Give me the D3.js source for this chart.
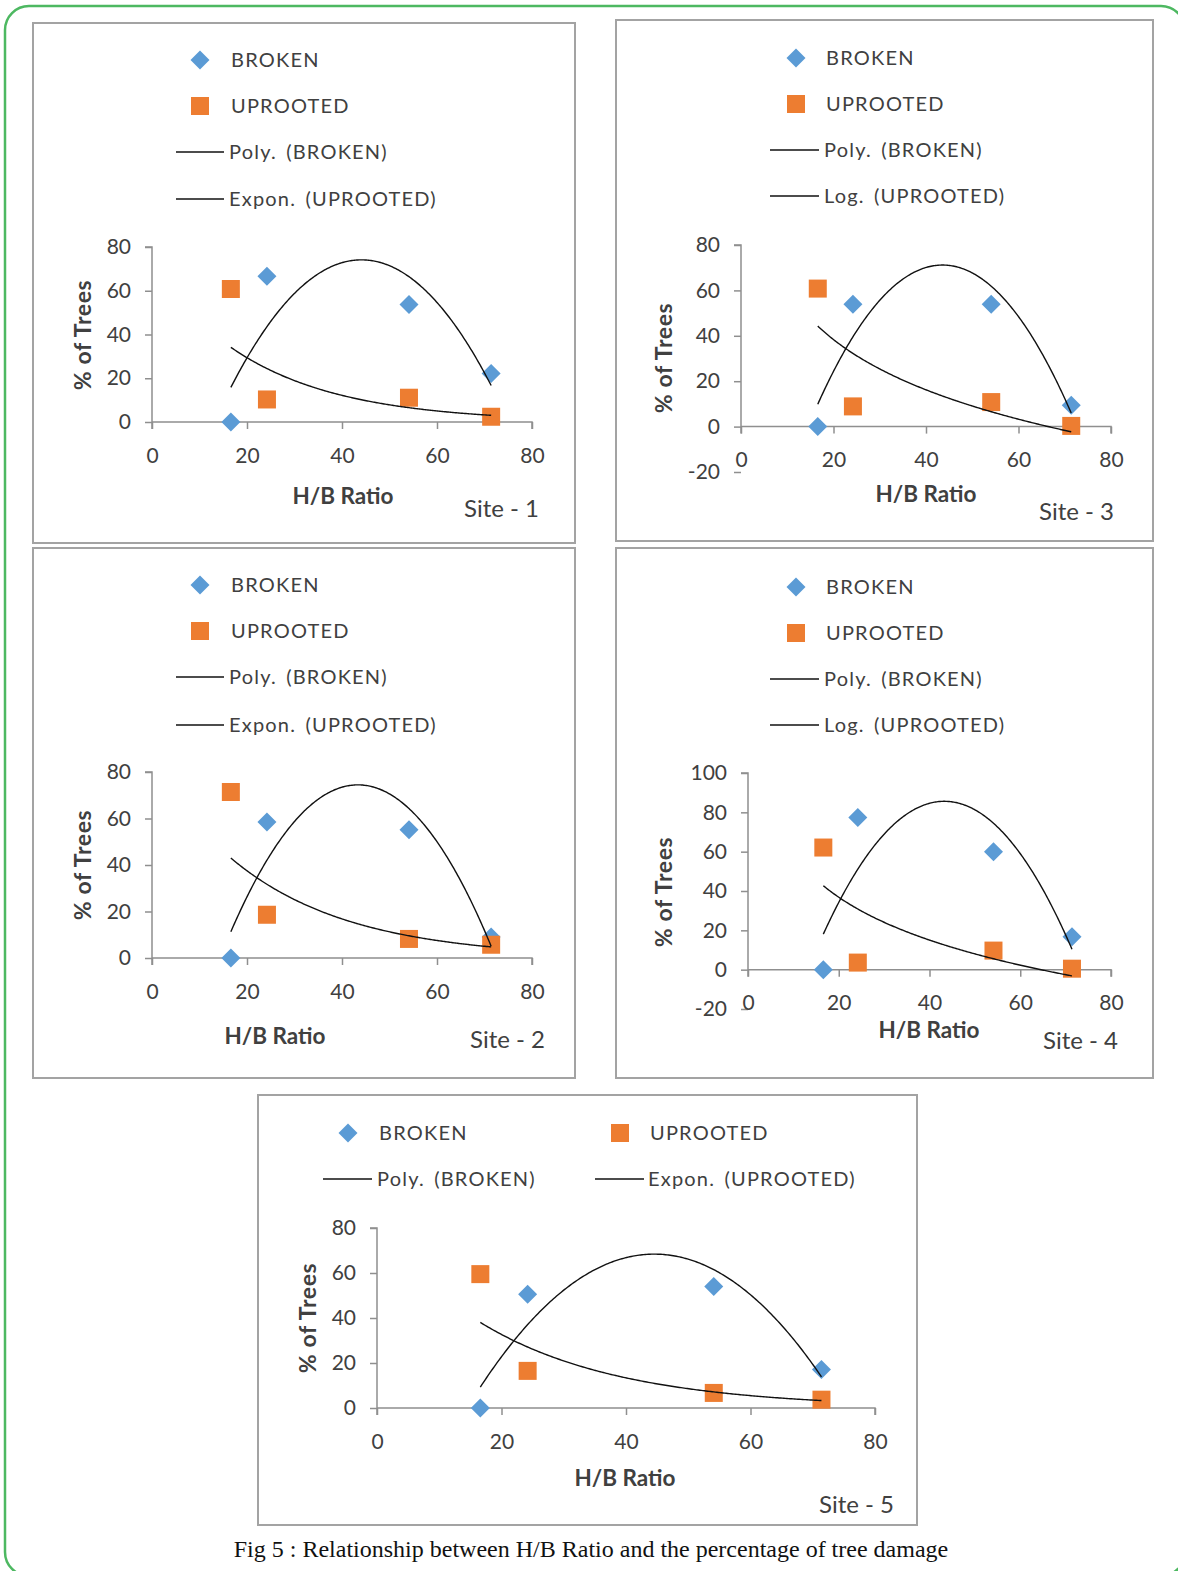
<!DOCTYPE html>
<html>
<head>
<meta charset="utf-8">
<script src="https://cdn.jsdelivr.net/npm/d3@7"></script>
<style>
  html, body { margin: 0; padding: 0; background: #fff; }
  svg { display: block; }
  .tick-label { font-family: Lato, "Open Sans", sans-serif; font-size: 21px; fill: #404040; }
  .legend-label { font-family: Lato, "Open Sans", sans-serif; font-size: 20px; fill: #404040; letter-spacing: 1.2px; word-spacing: 3px; }
  .axis-title { font-family: Lato, "Open Sans", sans-serif; font-size: 22.5px; font-weight: bold; fill: #404040; }
  .y-title { font-size: 23px; letter-spacing: 0.6px; }
  .site-label { font-family: Lato, "Open Sans", sans-serif; font-size: 24px; fill: #404040; }
  .caption { font-family: "Liberation Serif", "Times New Roman", serif; font-size: 24px; fill: #111; }
</style>
</head>
<body>
<svg id="fig" width="1178" height="1571"></svg>
<script>
// H/B ratio classes (shared by every site)
const hbRatio = [16.6, 24.2, 54.1, 71.4];

// % of trees broken, per site
const brokenSite1 = [0, 66.6, 53.7, 22.2];
const brokenSite2 = [0, 58.5, 55.2, 9.0];
const brokenSite3 = [0, 53.9, 53.9, 9.4];
const brokenSite4 = [0, 77.4, 59.9, 16.7];
const brokenSite5 = [0, 50.6, 54.0, 17.1];

// % of trees uprooted, per site
const uprootedSite1 = [60.8, 10.3, 11.1, 2.4];
const uprootedSite2 = [71.4, 18.6, 8.2, 5.7];
const uprootedSite3 = [60.8, 8.9, 10.8, 0.3];
const uprootedSite4 = [62.1, 3.6, 9.7, 0.5];
const uprootedSite5 = [59.5, 16.5, 6.7, 3.7];

const siteNames = ["Site - 1", "Site - 2", "Site - 3", "Site - 4", "Site - 5"];
const uprootedTrendType = ["Expon.", "Expon.", "Log.", "Log.", "Expon."];
const xTicks = [0, 20, 40, 60, 80];
const yTicksA = [0, 20, 40, 60, 80];
const yTicksB = [-20, 0, 20, 40, 60, 80];
const yTicksC = [-20, 0, 20, 40, 60, 80, 100];

const BLUE = "#5B9BD5", ORANGE = "#ED7D31", AXIS = "#8f8f8f";
const plainNumber = d => String(d);

// ---- least-squares trend lines (as a spreadsheet would add them) ----
function polyFit2(xs, ys) {
  const n = xs.length;
  let s = [0, 0, 0, 0, 0], t = [0, 0, 0];
  for (let i = 0; i < n; i++) {
    let p = 1;
    for (let k = 0; k <= 4; k++) { s[k] += p; p *= xs[i]; }
    t[0] += ys[i]; t[1] += ys[i] * xs[i]; t[2] += ys[i] * xs[i] * xs[i];
  }
  // solve 3x3 normal equations
  const A = [[s[0], s[1], s[2], t[0]], [s[1], s[2], s[3], t[1]], [s[2], s[3], s[4], t[2]]];
  for (let c = 0; c < 3; c++) {
    for (let r = c + 1; r < 3; r++) {
      const f = A[r][c] / A[c][c];
      for (let k = c; k < 4; k++) A[r][k] -= f * A[c][k];
    }
  }
  const co = [0, 0, 0];
  for (let r = 2; r >= 0; r--) {
    let v = A[r][3];
    for (let k = r + 1; k < 3; k++) v -= A[r][k] * co[k];
    co[r] = v / A[r][r];
  }
  return x => co[0] + co[1] * x + co[2] * x * x;
}
function linFit(xs, ys) {
  const mx = d3.mean(xs), my = d3.mean(ys);
  const b = d3.sum(xs, (x, i) => (x - mx) * (ys[i] - my)) / d3.sum(xs, x => (x - mx) * (x - mx));
  return [my - b * mx, b];
}
function expFit(xs, ys) {
  const [a, b] = linFit(xs, ys.map(Math.log));
  return x => Math.exp(a + b * x);
}
function logFit(xs, ys) {
  const [a, b] = linFit(xs.map(Math.log), ys);
  return x => a + b * Math.log(x);
}

// ---- panel layout ----
const panels = [
  { box: [33, 23, 575, 543], xr: [152, 532], yd: [0, 80], yr: [422, 247], yt: yTicksA,
    broken: brokenSite1, uprooted: uprootedSite1, site: 0,
    legend: { mx: 200, tx: 229, lx: [176, 224], ys: [60, 106, 152, 199] },
    yTitle: [83, 335], xTitle: [343, 496], siteLbl: [539, 509] },
  { box: [33, 548, 575, 1078], xr: [152, 532], yd: [0, 80], yr: [958, 772], yt: yTicksA,
    broken: brokenSite2, uprooted: uprootedSite2, site: 1,
    legend: { mx: 200, tx: 229, lx: [176, 224], ys: [585, 631, 677, 725] },
    yTitle: [83, 865], xTitle: [275, 1036], siteLbl: [545, 1040] },
  { box: [616, 20, 1153, 541], xr: [741, 1111], yd: [-20, 80], yr: [472, 245], yt: yTicksB,
    broken: brokenSite3, uprooted: uprootedSite3, site: 2,
    legend: { mx: 796, tx: 824, lx: [770, 819], ys: [58, 104, 150, 196] },
    yTitle: [664, 358], xTitle: [926, 494], siteLbl: [1114, 512] },
  { box: [616, 548, 1153, 1078], xr: [748, 1111], yd: [-20, 100], yr: [1009, 773], yt: yTicksC,
    broken: brokenSite4, uprooted: uprootedSite4, site: 3,
    legend: { mx: 796, tx: 824, lx: [770, 819], ys: [587, 633, 679, 725] },
    yTitle: [664, 892], xTitle: [929, 1030], siteLbl: [1118, 1041] },
  { box: [258, 1095, 917, 1525], xr: [377, 875], yd: [0, 80], yr: [1408, 1228], yt: yTicksA,
    broken: brokenSite5, uprooted: uprootedSite5, site: 4,
    legend: { twoCol: true, mx: [348, 620], tx: [377, 648], lx: [[323, 372], [595, 644]], ys: [1133, 1179] },
    yTitle: [308, 1318], xTitle: [625, 1478], siteLbl: [894, 1505] }
];

const svg = d3.select("#fig");

// outer rounded frame
svg.append("rect")
  .attr("x", 5).attr("y", 6).attr("width", 1180).attr("height", 1570)
  .attr("rx", 24).attr("ry", 24)
  .attr("fill", "none").attr("stroke", "#4DB861").attr("stroke-width", 2.5);

const diamondPath = (cx, cy, r) => `M${cx},${cy - r}L${cx + r},${cy}L${cx},${cy + r}L${cx - r},${cy}Z`;

function drawMarkerBroken(g, cx, cy) {
  g.append("path").attr("d", diamondPath(cx, cy, 9.5)).attr("fill", BLUE);
}
function drawMarkerUprooted(g, cx, cy) {
  g.append("rect").attr("x", cx - 9).attr("y", cy - 9).attr("width", 18).attr("height", 18).attr("fill", ORANGE);
}

panels.forEach(p => {
  const g = svg.append("g");
  const [bx0, by0, bx1, by1] = p.box;
  g.append("rect").attr("x", bx0).attr("y", by0).attr("width", bx1 - bx0).attr("height", by1 - by0)
    .attr("fill", "#fff").attr("stroke", "#a3a3a3").attr("stroke-width", 2);

  const x = d3.scaleLinear().domain([0, 80]).range(p.xr);
  const y = d3.scaleLinear().domain(p.yd).range(p.yr);
  const y0 = y(0);

  // y axis
  const yAxis = d3.axisLeft(y).tickValues(p.yt).tickSize(7).tickPadding(14).tickFormat(plainNumber);
  const ya = g.append("g").attr("transform", `translate(${p.xr[0]},0)`).call(yAxis);
  ya.select(".domain").attr("stroke", AXIS).attr("stroke-width", 1.5).attr("d", `M-7,${p.yr[1]}H0V${y0 + 7}`);
  ya.selectAll(".tick line").attr("stroke", AXIS).attr("stroke-width", 1.5);
  ya.selectAll(".tick text").attr("class", "tick-label").attr("fill", null);

  // x axis on the zero line; labels sit a fixed distance below it
  const xAxis = d3.axisBottom(x).tickValues(xTicks).tickSize(7).tickPadding(24).tickFormat(plainNumber);
  const xa = g.append("g").attr("transform", `translate(0,${y0})`).call(xAxis);
  xa.select(".domain").attr("stroke", AXIS).attr("stroke-width", 1.5).attr("d", `M${p.xr[0]},0H${p.xr[1]}V7`);
  xa.selectAll(".tick line").attr("stroke", AXIS).attr("stroke-width", 1.5);
  xa.selectAll(".tick text").attr("class", "tick-label").attr("fill", null)
    .attr("dy", "0.32em").attr("y", 34);
  ya.attr("font-size", null).attr("font-family", null);
  xa.attr("font-size", null).attr("font-family", null);

  // trend lines
  const xmin = d3.min(hbRatio), xmax = d3.max(hbRatio);
  const samples = d3.range(xmin, xmax, 0.25).concat([xmax]);
  const polyF = polyFit2(hbRatio, p.broken);
  const upF = uprootedTrendType[p.site] === "Log." ? logFit(hbRatio, p.uprooted) : expFit(hbRatio, p.uprooted);
  const line = d3.line().x(d => x(d[0])).y(d => y(d[1]));

  // markers
  p.broken.forEach((v, i) => drawMarkerBroken(g, x(hbRatio[i]), y(v)));
  p.uprooted.forEach((v, i) => drawMarkerUprooted(g, x(hbRatio[i]), y(v)));

  g.append("path").datum(samples.map(s => [s, polyF(s)])).attr("d", line)
    .attr("fill", "none").attr("stroke", "#111").attr("stroke-width", 1.4);
  g.append("path").datum(samples.map(s => [s, upF(s)])).attr("d", line)
    .attr("fill", "none").attr("stroke", "#111").attr("stroke-width", 1.4);

  // titles
  g.append("text").attr("class", "axis-title y-title")
    .attr("transform", `translate(${p.yTitle[0]},${p.yTitle[1]}) rotate(-90)`)
    .attr("text-anchor", "middle").attr("dy", "0.35em").text("% of Trees");
  g.append("text").attr("class", "axis-title").attr("x", p.xTitle[0]).attr("y", p.xTitle[1])
    .attr("text-anchor", "middle").attr("dy", "0.35em").text("H/B Ratio");
  g.append("text").attr("class", "site-label").attr("x", p.siteLbl[0]).attr("y", p.siteLbl[1])
    .attr("text-anchor", "end").attr("dy", "0.35em").text(siteNames[p.site]);

  // legend
  const L = p.legend;
  const labels = ["BROKEN", "UPROOTED", "Poly. (BROKEN)", `${uprootedTrendType[p.site]} (UPROOTED)`];
  if (!L.twoCol) {
    drawMarkerBroken(g, L.mx, L.ys[0]);
    drawMarkerUprooted(g, L.mx, L.ys[1]);
    [2, 3].forEach(k => g.append("line").attr("x1", L.lx[0]).attr("x2", L.lx[1])
      .attr("y1", L.ys[k]).attr("y2", L.ys[k]).attr("stroke", "#111").attr("stroke-width", 1.4));
    labels.forEach((t, k) => g.append("text").attr("class", "legend-label")
      .attr("x", L.tx + (k < 2 ? 2 : 0)).attr("y", L.ys[k]).attr("dy", "0.35em").text(t));
  } else {
    drawMarkerBroken(g, L.mx[0], L.ys[0]);
    drawMarkerUprooted(g, L.mx[1], L.ys[0]);
    [0, 1].forEach(c => g.append("line").attr("x1", L.lx[c][0]).attr("x2", L.lx[c][1])
      .attr("y1", L.ys[1]).attr("y2", L.ys[1]).attr("stroke", "#111").attr("stroke-width", 1.4));
    g.append("text").attr("class", "legend-label").attr("x", L.tx[0] + 2).attr("y", L.ys[0]).attr("dy", "0.35em").text(labels[0]);
    g.append("text").attr("class", "legend-label").attr("x", L.tx[1] + 2).attr("y", L.ys[0]).attr("dy", "0.35em").text(labels[1]);
    g.append("text").attr("class", "legend-label").attr("x", L.tx[0]).attr("y", L.ys[1]).attr("dy", "0.35em").text(labels[2]);
    g.append("text").attr("class", "legend-label").attr("x", L.tx[1]).attr("y", L.ys[1]).attr("dy", "0.35em").text(labels[3]);
  }
});

svg.append("text").attr("class", "caption").attr("x", 591).attr("y", 1557).attr("text-anchor", "middle")
  .text("Fig 5 : Relationship between H/B Ratio and the percentage of tree damage");
</script>
</body>
</html>
